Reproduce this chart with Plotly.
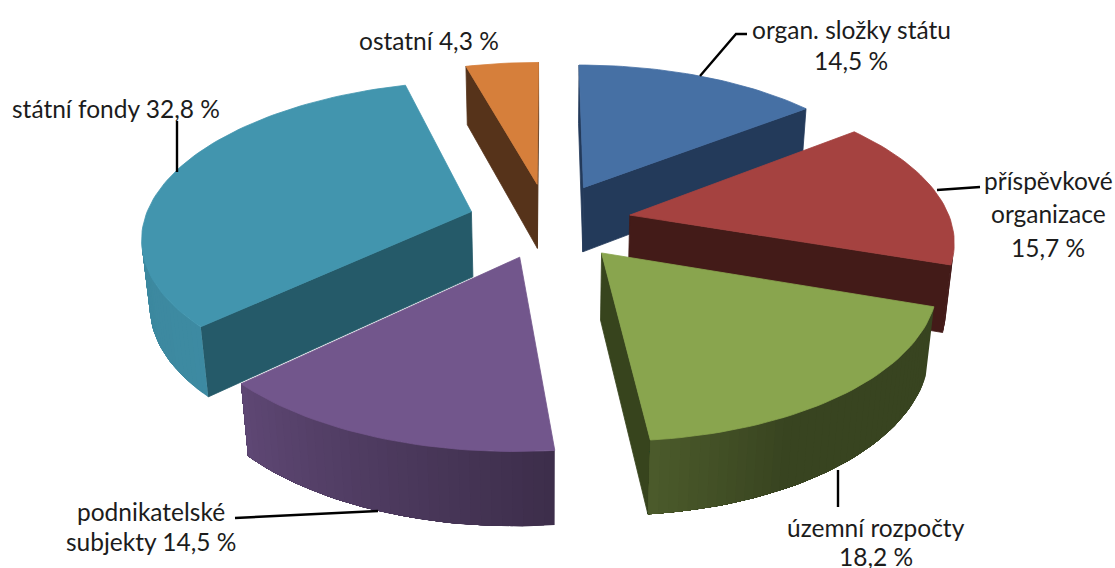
import numpy as np
import plotly.graph_objects as go

# --- data ---
categories = ["organ. složky státu", "příspěvkové organizace", "územní rozpočty",
              "podnikatelské subjekty", "státní fondy", "ostatní"]
values = [14.5, 15.7, 18.2, 14.5, 32.8, 4.3]

# --- styles ---
top_colors = ["#4670a4", "#a54240", "#89a54e", "#72568c", "#4295ae", "#d67f3b"]
cut_colors = ["#233a5a", "#431b18", "#37441d", "#3c2b4a", "#255a69", "#56331a"]
rim_shades = [[.5, .5], [.42, .42], [.41, .41, .41, .55], [.53, .83], [.93, .85], [.6, .6]]
explode = [.26, .26, .26, .245, .25, .26]
radius = [1, 1, 1, 1.02, 1.02, 1]
draw_order = [5, 0, 1, 4, 2, 3]

label_lines = ["organ. složky státu", "14,5 %", "příspěvkové", "organizace", "15,7 %",
               "územní rozpočty", "18,2 %", "podnikatelské", "subjekty 14,5 %",
               "státní fondy 32,8 %", "ostatní 4,3 %"]
label_x = [851, 851, 1048, 1048, 1048, 876, 876, 151, 151, 116, 429]
label_y = [29, 60, 180, 213, 247, 527, 556, 511, 541, 108, 40]
leaders = [([700, 736, 747], [76, 34, 34]), ([937, 980], [190, 187]), ([838, 838], [470, 507]),
           ([378, 235], [511, 518]), ([177, 177], [121, 172])]

# --- projection of the 3-D pie ---
CX, CY, AX, AY, DEPTH, PERSP, CONV = 548, 221.5, 321, 150, 67, 0.148, 0.02


def project(x, y, z):
    s = 1 / (1 - PERSP * y + CONV * z)
    return CX + AX * x * s, CY + (AY * y + DEPTH * z) * s


def shade(color, f):
    r, g, b = (int(color[i:i + 2], 16) for i in (1, 3, 5))
    return f"rgb({r * f:.0f},{g * f:.0f},{b * f:.0f})"


def area(pts):
    m = len(pts)
    return 0.5 * sum(pts[i][0] * pts[(i + 1) % m][1] - pts[(i + 1) % m][0] * pts[i][1] for i in range(m))


fig = go.Figure()


def poly(pts, color, width=0.8):
    xs = [p[0] for p in pts]
    ys = [p[1] for p in pts]
    fig.add_trace(go.Scatter(x=xs + xs[:1], y=ys + ys[:1], mode="lines", fill="toself",
                             fillcolor=color, line=dict(color=color, width=width),
                             hoverinfo="skip", showlegend=False))


edges = np.cumsum([0] + values) / sum(values) * 2 * np.pi
for idx in draw_order:
    a0, a1 = edges[idx], edges[idx + 1]
    mid = (a0 + a1) / 2
    e = explode[idx]
    ox, oy = e * np.sin(mid), -e * np.cos(mid)
    n = max(4, int((a1 - a0) / np.radians(1.5)))
    angles = np.linspace(a0, a1, n + 1)
    px = ox + radius[idx] * np.sin(angles)
    py = oy - radius[idx] * np.cos(angles)

    # cut faces (kept only when they turn towards the viewer)
    for (ex, ey), sign in (((px[0], py[0]), 1), ((px[-1], py[-1]), -1)):
        q = [project(ox, oy, 0), project(ex, ey, 0), project(ex, ey, 1), project(ox, oy, 1)]
        if sign * area(q) < 0:
            poly(q, cut_colors[idx])

    # rim: overlapping bands, each reaching to the end of the visible arc, so no seams show
    visible = [i for i in range(n)
               if area([project(px[i], py[i], 0), project(px[i + 1], py[i + 1], 0),
                        project(px[i + 1], py[i + 1], 1), project(px[i], py[i], 1)]) < 0]
    if visible:
        first, last = visible[0], visible[-1] + 1
        stops = rim_shades[idx]
        for i in range(first, last):
            f = np.interp((i + .5) / n, np.linspace(0, 1, len(stops)), stops)
            top = [project(px[j], py[j], 0) for j in range(i, last + 1)]
            bottom = [project(px[j], py[j], 1) for j in range(last, i - 1, -1)]
            poly(top + bottom, shade(top_colors[idx], f), width=0)

    # top
    poly([project(ox, oy, 0)] + [project(x, y, 0) for x, y in zip(px, py)], top_colors[idx])

for lx, ly in leaders:
    fig.add_trace(go.Scatter(x=lx, y=ly, mode="lines", line=dict(color="#000000", width=2.4),
                             hoverinfo="skip", showlegend=False))

for text, x, y in zip(label_lines, label_x, label_y):
    fig.add_annotation(x=x, y=y, text=text, showarrow=False, xanchor="center", yanchor="middle",
                       font=dict(family="Lato", size=24.5, color="#1c1c1c"))

fig.update_layout(width=1115, height=568, autosize=False, margin=dict(l=0, r=0, t=0, b=0),
                  paper_bgcolor="white", plot_bgcolor="white",
                  xaxis=dict(range=[0, 1115], visible=False, fixedrange=True),
                  yaxis=dict(range=[568, 0], visible=False, fixedrange=True))
fig.write_html("out.html", config=dict(displayModeBar=False),
               post_script="document.body.style.margin='0';document.documentElement.style.overflow='hidden';")
